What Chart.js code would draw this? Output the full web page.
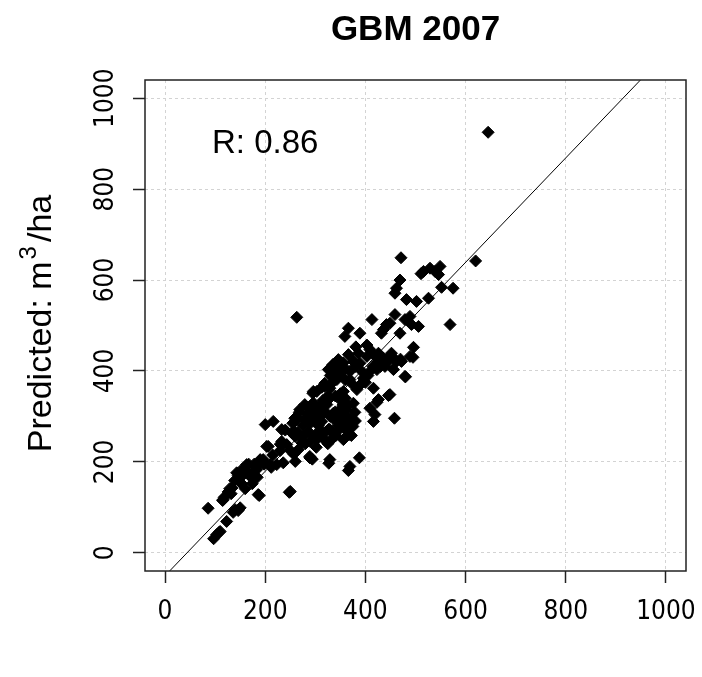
<!DOCTYPE html>
<html>
<head>
<meta charset="utf-8">
<script src="https://cdn.jsdelivr.net/npm/chart.js@4.4.1/dist/chart.umd.min.js"></script>
<style>
  html, body { margin: 0; padding: 0; background: #fff; }
  canvas { display: block; }
</style>
</head>
<body>
<canvas id="plot" width="702" height="677"></canvas>
<script>
var observed = [
  645, 471, 620, 263, 569, 86, 248, 366, 458, 416, 388, 327, 294, 188,
  516, 529, 539, 549, 546, 511, 552, 575, 469, 462, 459, 482, 502, 526, 459, 479,
  492, 506, 442, 436, 469, 496, 495, 413, 366, 359, 389, 403, 432, 449, 489, 381,
  480, 470,
  346, 366, 376, 386, 389, 403, 409, 416, 426, 436, 442, 452, 462, 472, 489,
  326, 336, 349, 369, 393, 409, 423, 439, 456, 479, 319, 343, 369, 396, 416, 383,
  356, 329, 426, 449, 409, 419, 326, 349, 376, 309, 336, 295, 313, 446, 423,
  259, 269, 279, 296, 309, 323, 296, 303, 319, 333, 335, 345, 356, 303, 313, 335,
  349, 363, 375, 369, 335, 303, 286, 356, 329, 266, 276, 369, 196, 200, 216, 233,
  206, 233, 243, 266, 289, 329, 268, 285, 348, 379, 278, 299, 341, 362, 261, 306,
  327, 348, 271, 299, 320, 341, 362, 372, 302, 230, 257, 212,
  203, 210, 223, 236, 260, 250, 233, 260, 273, 289, 240, 253, 143, 153, 163, 170,
  176, 183, 190, 186, 140, 150, 116, 126, 134, 103, 110, 97, 108, 123, 146, 136,
  181, 167, 160, 146, 139, 129, 118, 115, 153, 160, 174, 184, 132, 195,
  255, 265, 275, 290, 300, 310, 320, 330, 340, 350, 360, 370,
  285, 295, 315, 325, 340, 350, 360, 365, 355,
  310, 320, 335, 345, 355, 365, 380, 290, 280, 310, 325,
  360, 375, 390, 400, 405, 415, 425, 430, 445, 455, 350, 340, 330, 360, 380,
  155, 165, 178, 198, 215, 230, 250
];
var predicted = [
  925, 649, 642, 518, 502, 98, 133, 181, 296, 289, 209, 197, 206, 126,
  619, 626, 619, 630, 612, 614, 584, 582, 600, 582, 571, 557, 553, 560, 524, 513,
  502, 498, 502, 491, 483, 452, 430, 513, 494, 476, 483, 457, 483, 505, 520, 453,
  387, 426,
  425, 436, 421, 439, 417, 432, 447, 436, 439, 428, 425, 439, 421, 421, 432,
  403, 414, 399, 399, 399, 399, 403, 410, 403, 388, 373, 381, 381, 384, 362, 359,
  355, 362, 337, 348, 318, 304, 337, 337, 329, 315, 307, 351, 364, 346, 331,
  296, 315, 326, 330, 322, 326, 355, 355, 366, 373, 414, 414, 418, 304, 289, 296,
  307, 315, 278, 260, 252, 249, 267, 249, 271, 264, 256, 190, 205, 282, 289, 271,
  234, 245, 238, 227, 212, 205, 309, 320, 313, 309, 294, 298, 294, 291, 265, 280,
  272, 272, 254, 258, 247, 258, 269, 258, 232, 239, 217, 188,
  234, 194, 194, 198, 201, 135, 238, 256, 242, 209, 270, 264, 176, 168, 194, 168,
  176, 183, 205, 128, 95, 99, 117, 134, 143, 40, 47, 31, 45, 69, 93, 89,
  188, 195, 181, 170, 159, 141, 122, 115, 152, 141, 152, 166, 130, 203,
  285, 295, 280, 285, 290, 300, 310, 300, 310, 300, 300, 295,
  305, 315, 335, 345, 345, 350, 340, 325, 325,
  270, 265, 265, 280, 285, 280, 290, 245, 240, 260, 240,
  380, 370, 370, 375, 390, 410, 420, 410, 420, 430, 390, 395, 390, 405, 410,
  185, 175, 195, 195, 215, 225, 225
];

var tickValues = [0, 200, 400, 600, 800, 1000];
var axisRange = [-40, 1040];

// fitted line drawn across the panel
var fitIntercept = -50.5;
var fitSlope = 1.149;

var titleText = 'GBM 2007';
var yTitle = ['Predicted: m', '3', '/ha'];
var rLabel = 'R: 0.86';
var rLabelAt = [200, 900];

var points = observed.map(function(x, i) {
  return { x: x, y: predicted[i] };
});
var fitLine = axisRange.map(function(x) {
  return { x: x, y: fitIntercept + fitSlope * x };
});

var tickFont = '"Liberation Sans Narrow", "DejaVu Sans Condensed", "Liberation Sans", Arial, sans-serif';
var mainFont = '"Liberation Sans", Arial, sans-serif';

function setTicks(scale) {
  scale.ticks = tickValues.map(function(v) { return { value: v }; });
}

// title, y tick labels, y title, R text and the box, R style
var decorations = {
  id: 'decorations',
  afterDraw: function(chart) {
    var ctx = chart.ctx;
    var area = chart.chartArea;
    var xs = chart.scales.x;
    var ys = chart.scales.y;
    ctx.save();
    ctx.fillStyle = '#000';

    ctx.font = 'bold 35px ' + mainFont;
    ctx.textAlign = 'center';
    ctx.textBaseline = 'middle';
    ctx.fillText(titleText, (area.left + area.right) / 2, 30);

    ctx.font = '26px ' + tickFont;
    tickValues.forEach(function(v) {
      ctx.save();
      ctx.translate(113, ys.getPixelForValue(v));
      ctx.rotate(-Math.PI / 2);
      ctx.textAlign = 'center';
      ctx.textBaseline = 'alphabetic';
      ctx.fillText(String(v), 0, 0);
      ctx.restore();
    });

    // y title with superscript
    ctx.save();
    ctx.translate(51, (area.top + area.bottom) / 2 - 2);
    ctx.rotate(-Math.PI / 2);
    ctx.textAlign = 'left';
    ctx.textBaseline = 'alphabetic';
    ctx.font = '34px ' + mainFont;
    var w0 = ctx.measureText(yTitle[0]).width;
    var w2 = ctx.measureText(yTitle[2]).width;
    ctx.font = '24px ' + mainFont;
    var w1 = ctx.measureText(yTitle[1]).width;
    var start = -(w0 + w1 + w2 + 6) / 2;
    ctx.font = '34px ' + mainFont;
    ctx.fillText(yTitle[0], start, 0);
    ctx.font = '24px ' + mainFont;
    ctx.fillText(yTitle[1], start + w0 + 2, -15);
    ctx.font = '34px ' + mainFont;
    ctx.fillText(yTitle[2], start + w0 + w1 + 6, 0);
    ctx.restore();

    ctx.font = '33px ' + mainFont;
    ctx.textAlign = 'center';
    ctx.textBaseline = 'middle';
    ctx.fillText(rLabel, xs.getPixelForValue(rLabelAt[0]), ys.getPixelForValue(rLabelAt[1]));

    ctx.strokeStyle = '#222';
    ctx.lineWidth = 1.5;
    ctx.strokeRect(area.left, area.top, area.right - area.left, area.bottom - area.top);
    ctx.restore();
  }
};

var ctx = document.getElementById('plot');
var chart = new Chart(ctx, {
  type: 'scatter',
  data: {
    datasets: [{
        type: 'line',
        data: fitLine,
        borderColor: '#000',
        borderWidth: 1,
        pointRadius: 0,
        fill: false,
        order: 0
      }, {
        data: points,
        pointStyle: 'rectRot',
        pointRadius: 6,
        pointBorderWidth: 1,
        backgroundColor: '#000',
        borderColor: '#000',
        order: 1
      }
    ]
  },
  options: {
    responsive: false,
    animation: false,
    events: [],
    layout: { padding: { top: 80, right: 16, left: 0, bottom: 0 } },
    plugins: {
      legend: { display: false },
      tooltip: { enabled: false }
    },
    scales: {
      x: {
        type: 'linear',
        min: axisRange[0],
        max: axisRange[1],
        afterBuildTicks: setTicks,
        afterFit: function(scale) {
          scale.height = 106;
          scale.paddingLeft = 0;
          scale.paddingRight = 0;
        },
        grid: {
          color: '#d3d3d3',
          lineWidth: 1,
          tickLength: 12,
          tickColor: '#222',
          tickWidth: 1.5,
          tickBorderDash: []
        },
        border: { display: false, dash: [3, 3] },
        ticks: {
          color: '#000',
          padding: 14,
          maxRotation: 0,
          font: { family: tickFont, size: 26 },
          callback: function(v) { return String(v); }
        }
      },
      y: {
        type: 'linear',
        min: axisRange[0],
        max: axisRange[1],
        afterBuildTicks: setTicks,
        afterFit: function(scale) {
          scale.width = 145;
          scale.paddingTop = 0;
          scale.paddingBottom = 0;
        },
        grid: {
          color: '#d3d3d3',
          lineWidth: 1,
          tickLength: 12,
          tickColor: '#222',
          tickWidth: 1.5,
          tickBorderDash: []
        },
        border: { display: false, dash: [3, 3] },
        ticks: { display: false }
      }
    }
  },
  plugins: [decorations]
});
</script>
</body>
</html>
